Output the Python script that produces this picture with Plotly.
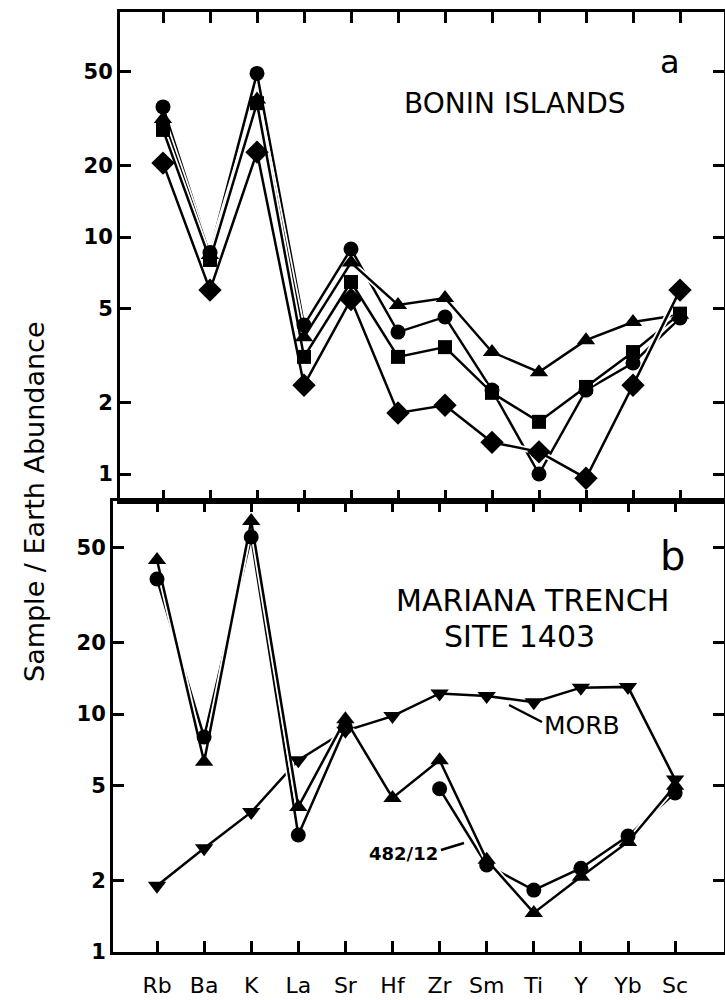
import plotly.graph_objects as go

# ---------------- data ----------------
elements = ["Rb", "Ba", "K", "La", "Sr", "Hf", "Zr", "Sm", "Ti", "Y", "Yb", "Sc"]

# panel a: Bonin Islands
bonin_circle = [35.4, 8.6, 49.0, 4.25, 8.9, 3.97, 4.6, 2.26, 1.0, 2.26, 2.94, 4.55]
bonin_triangle = [31.5, 8.4, 38.0, 3.78, 7.8, 5.17, 5.53, 3.27, 2.69, 3.67, 4.38, 4.7]
bonin_square = [28.3, 8.0, 36.7, 3.12, 6.46, 3.12, 3.43, 2.2, 1.66, 2.33, 3.27, 4.75]
bonin_diamond = [20.5, 5.97, 22.8, 2.37, 5.45, 1.81, 1.95, 1.36, 1.24, 0.96, 2.37, 5.97]

# panel b: Mariana Trench site 1403
mariana_circle = [36.9, 8.0, 55.4, 3.1, 8.8, None, 4.85, 2.32, 1.82, 2.25, 3.07, 4.66]
mariana_triangle = [44.4, 6.3, 64.7, 4.07, 9.5, 4.44, 6.4, 2.44, 1.46, 2.07, 2.9, 5.0]
morb = [1.9, 2.73, 3.87, 6.4, 8.5, 9.8, 12.2, 11.9, 11.2, 12.9, 13.0, 5.3]

ytick_vals = [1, 2, 5, 10, 20, 50]
ytick_text = ["1", "2", "5", "10", "20", "50"]

# ---------------- layout geometry ----------------
W, H = 725, 1000
ML, MR, MT, MB = 113, 1, 12, 48
PW, PH = W - ML - MR, H - MT - MB


def px(xp):
    return (xp - ML) / PW


def py(yp):
    return (H - MB - yp) / PH


split = py(501)
xs = list(range(len(elements)))

fig = go.Figure()

panels = [
    ("x", "y", [(bonin_circle, "circle", 15), (bonin_triangle, "triangle-up", 16),
                (bonin_square, "square", 14), (bonin_diamond, "diamond", 18)]),
    ("x2", "y2", [(morb, "triangle-down", 16), (mariana_circle, "circle", 15),
                  (mariana_triangle, "triangle-up", 16)]),
]

for xa, ya, series in panels:
    for vals, sym, sz in series:
        fig.add_trace(go.Scatter(x=xs, y=vals, xaxis=xa, yaxis=ya, mode="lines",
                                 line=dict(color="white", width=6),
                                 connectgaps=False, hoverinfo="skip", showlegend=False))
        fig.add_trace(go.Scatter(x=xs, y=vals, xaxis=xa, yaxis=ya, mode="lines",
                                 line=dict(color="black", width=2.5),
                                 connectgaps=False, showlegend=False))
    for vals, sym, sz in series:
        fig.add_trace(go.Scatter(x=xs, y=vals, xaxis=xa, yaxis=ya, mode="markers",
                                 marker=dict(symbol=sym, size=sz, color="black",
                                             line=dict(width=0)),
                                 showlegend=False))

axis_common = dict(showline=True, linecolor="black", linewidth=3, mirror="allticks",
                   ticks="inside", tickcolor="black", tickwidth=2.5, ticklen=11,
                   showgrid=False, zeroline=False, automargin=False)

yfont = dict(family="DejaVu Sans", size=21, color="black", weight="bold")

fig.update_layout(
    width=W, height=H,
    margin=dict(l=ML, r=MR, t=MT, b=MB, autoexpand=False),
    paper_bgcolor="white", plot_bgcolor="white",
    showlegend=False,
    xaxis=dict(axis_common, domain=[px(120), 1], anchor="y",
               range=[-(163 - 120) / 47.0, (724 - 163) / 47.0],
               tickvals=xs, showticklabels=False),
    yaxis=dict(axis_common, domain=[split, 1], anchor="x", type="log",
               range=[(474 - 501) / 237, (474 - 12) / 237],
               tickvals=ytick_vals, ticktext=ytick_text, tickfont=yfont),
    xaxis2=dict(axis_common, domain=[0, 1], anchor="y2",
                range=[-(157 - ML) / 47.1, (724 - 157) / 47.1],
                tickvals=xs, ticktext=elements, ticklabelstandoff=12,
                tickfont=dict(family="DejaVu Sans", size=22, color="black")),
    yaxis2=dict(axis_common, domain=[0, split], anchor="x2", type="log",
                range=[0, (952 - 501) / 238],
                tickvals=ytick_vals, ticktext=ytick_text, tickfont=yfont),
)

font_main = "DejaVu Sans"
annots = [
    dict(text="a", x=px(670), y=py(62), size=32),
    dict(text="BONIN ISLANDS", x=px(515), y=py(103), size=28),
    dict(text="b", x=px(672), y=py(556), size=40),
    dict(text="MARIANA TRENCH", x=px(532), y=py(600), size=30),
    dict(text="SITE 1403", x=px(519), y=py(636), size=30),
    dict(text="MORB", x=px(582), y=py(725), size=25),
]
for a in annots:
    fig.add_annotation(text=a["text"], x=a["x"], y=a["y"], xref="paper", yref="paper",
                       showarrow=False, xanchor="center", yanchor="middle",
                       font=dict(family=font_main, size=a["size"], color="black"))

fig.add_annotation(text="482/12", x=px(403), y=py(853), xref="paper", yref="paper",
                   showarrow=False, xanchor="center", yanchor="middle",
                   font=dict(family=font_main, size=18, color="black", weight="bold"))

fig.add_annotation(text="Sample / Earth Abundance", x=px(35), y=py(502),
                   xref="paper", yref="paper", showarrow=False, textangle=-90,
                   xanchor="center", yanchor="middle",
                   font=dict(family=font_main, size=27, color="black"))

# leader lines
fig.add_shape(type="line", xref="paper", yref="paper",
              x0=px(509), y0=py(705), x1=px(542), y1=py(722),
              line=dict(color="black", width=2.5))
fig.add_shape(type="line", xref="paper", yref="paper",
              x0=px(441), y0=py(850), x1=px(464), y1=py(843),
              line=dict(color="black", width=2.5))

fig.write_html("out.html",
               config={"displayModeBar": False},
               post_script="document.body.style.margin='0';"
                           "document.body.style.overflow='hidden';")
